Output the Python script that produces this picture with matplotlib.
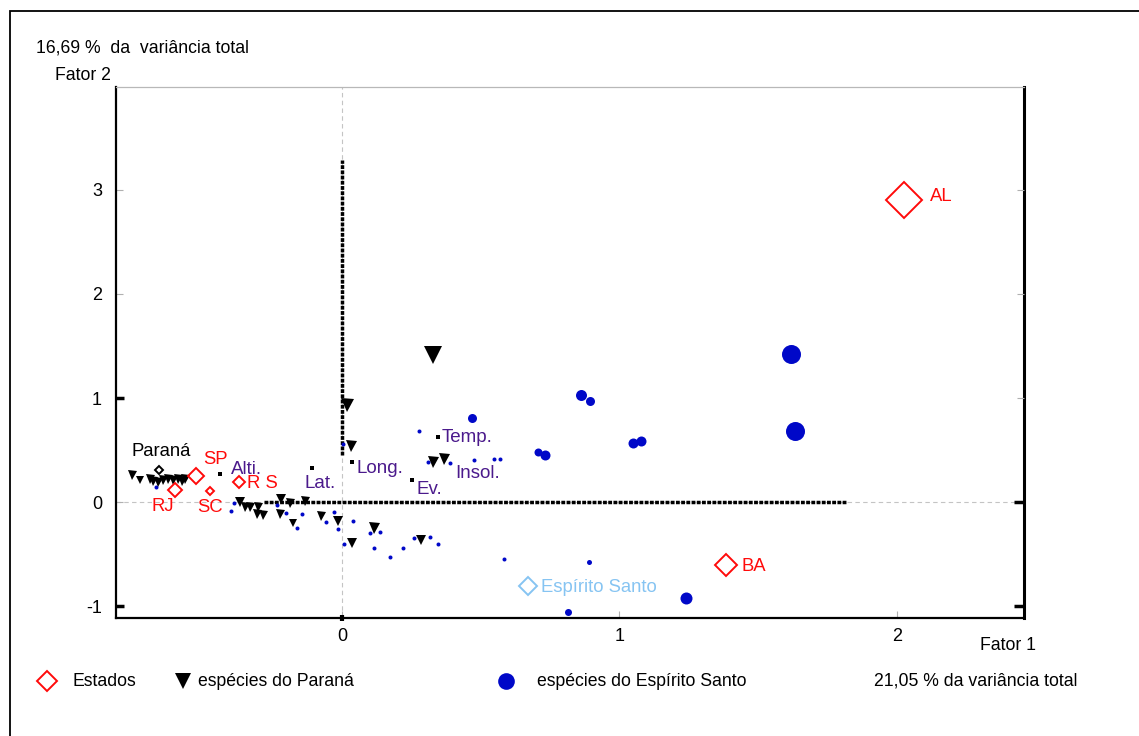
import numpy as np
import matplotlib
matplotlib.use("Agg")
import matplotlib.pyplot as plt
from matplotlib.lines import Line2D
from matplotlib.patches import Rectangle
from matplotlib.ticker import FixedLocator, NullFormatter

# states (factor scores)
estados = ["AL", "BA", "Espírito Santo", "SP", "RJ", "SC", "RS", "Paraná"]
estados_f1 = [2.025, 1.384, 0.670, -0.526, -0.602, -0.476, -0.371, -0.659]
estados_f2 = [2.904, -0.606, -0.808, 0.250, 0.115, 0.106, 0.192, 0.308]
estados_rotulo = ["AL", "BA", "Espírito Santo", "SP", "RJ", "SC", "R S", "Paraná"]

# environmental variables
variaveis = ["Alti.", "Lat.", "Long.", "Ev.", "Temp.", "Insol."]
var_f1 = [-0.440, -0.108, 0.036, 0.252, 0.346, 0.368]
var_f2 = [0.269, 0.327, 0.385, 0.212, 0.625, 0.420]

# species from Paraná
parana_f1 = [0.328, 0.018, 0.032, 0.328, 0.368,
             -0.757, -0.728, -0.692, -0.681, -0.663, -0.645, -0.627, -0.609, -0.591, -0.577, -0.566,
             -0.368, -0.350, -0.332, -0.303, -0.306, -0.285, -0.220, -0.223, -0.187, -0.133,
             -0.177, -0.076, -0.014, 0.036, 0.115, 0.285]
parana_f2 = [1.413, 0.933, 0.538, 0.385, 0.413,
             0.260, 0.212, 0.221, 0.202, 0.192, 0.212, 0.221, 0.212, 0.221, 0.202, 0.221,
             0.000, -0.048, -0.048, -0.048, -0.115, -0.125, 0.029, -0.115, -0.010, 0.010,
             -0.202, -0.135, -0.183, -0.394, -0.250, -0.365]
parana_peso = [18, 13, 11, 11, 11,
               9, 8, 9, 9, 9, 9, 9, 9, 9, 9, 9,
               10, 9, 9, 9, 9, 9, 10, 9, 9, 9,
               8, 9, 10, 10, 11, 10]

# species from Espírito Santo
es_f1 = [1.618, 1.632, 1.240, 0.861, 0.894, 1.049, 1.077, 0.706, 0.732, 0.468, 0.814,
         -0.670, -0.389, -0.400, -0.234, -0.202, -0.144, -0.058, -0.029, -0.162, -0.014,
         0.007, 0.040, 0.101, 0.137, 0.115, 0.173, 0.220, 0.259, 0.317, 0.346, 0.584,
         0.004, 0.277, 0.310, 0.389, 0.476, 0.548, 0.569, 0.890]
es_f2 = [1.423, 0.683, -0.923, 1.029, 0.971, 0.567, 0.587, 0.481, 0.452, 0.808, -1.058,
         0.144, -0.010, -0.087, -0.029, -0.106, -0.115, -0.192, -0.096, -0.250, -0.260,
         -0.404, -0.183, -0.298, -0.288, -0.442, -0.529, -0.442, -0.346, -0.337, -0.404, -0.548,
         0.558, 0.683, 0.385, 0.375, 0.404, 0.413, 0.413, -0.577]
es_peso = [19, 19, 12, 11, 9, 10, 10, 8, 10, 9, 7,
           4, 4, 4, 4, 4, 4, 4, 4, 4, 4,
           4, 4, 4, 4, 4, 4, 4, 4, 4, 4, 4,
           4, 4, 4, 4, 4, 4, 4, 5]

W, H = 1139, 736
RED = "#ff0a0a"
BLUE = "#0008c8"
PURPLE = "#4b1a8c"
LIGHTBLUE = "#86c4f2"

plt.rcParams["font.family"] = ["Liberation Sans", "DejaVu Sans"]
plt.rcParams["font.size"] = 12.7


def fx(px):
    return px / W


def fy(py):
    return 1 - py / H


fig = plt.figure(figsize=(W / 100, H / 100), dpi=100)
ax = fig.add_axes([fx(116), fy(618), fx(1024) - fx(116), fy(87) - fy(618)])
ax.set_xlim(-0.814, 2.458)
ax.set_ylim(-1.115, 3.99)

# light dashed reference lines through the origin
ax.axvline(0, color="#c4c4c4", lw=0.8, ls=(0, (4, 3)), zorder=0)
ax.axhline(0, color="#c4c4c4", lw=0.8, ls=(0, (4, 3)), zorder=0)

# heavy dotted axes of the biplot
ax.plot([0, 0], [0.45, 3.29], color="black", lw=2.5, ls=(0, (1.1, 0.4)), zorder=1)
ax.plot([-0.28, 1.82], [0, 0], color="black", lw=2.5, ls=(0, (1.1, 0.4)), zorder=1)

# species of Espírito Santo
for x, y, s in zip(es_f1, es_f2, es_peso):
    ax.plot(x, y, "o", color=BLUE, ms=s * 0.72, mew=0, zorder=3)

# species of Paraná
for x, y, s in zip(parana_f1, parana_f2, parana_peso):
    ax.plot(x, y, "v", color="black", ms=s * 0.72, mew=0, zorder=4)

# variables
ax.plot(var_f1, var_f2, "s", color="black", ms=2.5, mew=0, zorder=5)
var_offsets = {"Alti.": (11, 5), "Lat.": (-7, -15), "Long.": (5, -7),
               "Ev.": (5, -10), "Temp.": (4, 0), "Insol.": (11, -15)}
for nome, x, y in zip(variaveis, var_f1, var_f2):
    dx, dy = var_offsets[nome]
    ax.annotate(nome, (x, y), xytext=(dx, dy), textcoords="offset pixels",
                ha="left", va="center", color=PURPLE, fontsize=13.5, zorder=6)

# states
est_size = {"AL": 18.5, "BA": 11, "Espírito Santo": 9, "SP": 8, "RJ": 7.5,
            "SC": 4, "RS": 6.5, "Paraná": 4.5}
est_offsets = {"AL": (26, 3), "BA": (16, -1), "Espírito Santo": (13, -1), "SP": (7, 17),
               "RJ": (-23, -16), "SC": (-13, -17), "RS": (8, -1), "Paraná": (-28, 18)}
for nome, rot, x, y in zip(estados, estados_rotulo, estados_f1, estados_f2):
    cor = RED
    if nome == "Espírito Santo":
        cor = LIGHTBLUE
    elif nome == "Paraná":
        cor = "black"
    ax.plot(x, y, "D", mfc="none", mec=cor, mew=1.4, ms=est_size[nome], zorder=7)
    dx, dy = est_offsets[nome]
    ax.annotate(rot, (x, y), xytext=(dx, dy), textcoords="offset pixels",
                ha="left", va="center", color=cor, fontsize=13.3, zorder=8)

# frame and ticks
ax.set_xticks([0, 1, 2])
ax.set_yticks([-1, 0, 1, 2, 3])
ax.set_xticklabels(["0", "1", "2"])
ax.set_yticklabels(["-1", "0", "1", "2", "3"])
ax.tick_params(direction="in", length=5, width=0.8, color="#b0b0b0", labelsize=13,
               top=False, pad=7)
ax.tick_params(axis="y", pad=10)

# a few heavy black ticks drawn as minor ticks
ax.xaxis.remove_overlapping_locs = False
ax.yaxis.remove_overlapping_locs = False
ax.yaxis.set_minor_locator(FixedLocator([-1, 1]))
ax.yaxis.set_minor_formatter(NullFormatter())
ax.tick_params(axis="y", which="minor", direction="in", length=6, width=2.5,
               color="black", left=True, right=False)
ax.xaxis.set_minor_locator(FixedLocator([0]))
ax.xaxis.set_minor_formatter(NullFormatter())
ax.tick_params(axis="x", which="minor", direction="inout", length=5, width=3,
               color="black", bottom=True, top=False)

# right-hand ticks on a twin axis: heavy black at -1 and 0, light grey above
ax_r = ax.twinx()
ax_r.set_ylim(ax.get_ylim())
ax_r.set_yticks([-1, 0])
ax_r.set_yticklabels([])
ax_r.tick_params(axis="y", direction="in", length=7, width=2.5, color="black")
ax_r.yaxis.set_minor_locator(FixedLocator([1, 2, 3]))
ax_r.yaxis.set_minor_formatter(NullFormatter())
ax_r.tick_params(axis="y", which="minor", direction="in", length=5, width=0.8, color="#b0b0b0")
for sp in ax_r.spines.values():
    sp.set_visible(False)

for sp in ["left", "bottom"]:
    ax.spines[sp].set_linewidth(1.6)
    ax.spines[sp].set_color("black")
ax.spines["right"].set_linewidth(2.2)
ax.spines["right"].set_color("black")
ax.spines["top"].set_linewidth(0.9)
ax.spines["top"].set_color("#b8b8b8")

# outer frame
fig.add_artist(Rectangle((fx(10), -0.2), 1.2, fy(11) + 0.2, transform=fig.transFigure,
                         fill=False, ec="black", lw=1.3))

fig.text(fx(36), fy(48), "16,69 %  da  variância total", ha="left", va="center")
fig.text(fx(55), fy(75), "Fator 2", ha="left", va="center")
fig.text(fx(980), fy(646), "Fator 1", ha="left", va="center")

# legend row
fig.add_artist(Line2D([fx(47)], [fy(681)], marker="D", mfc="none", mec=RED, mew=1.4, ms=10,
                      transform=fig.transFigure))
fig.text(fx(72), fy(681), "Estados", ha="left", va="center")
fig.add_artist(Line2D([fx(183)], [fy(681)], marker="v", color="black", mew=0, ms=12,
                      transform=fig.transFigure))
fig.text(fx(198), fy(681), "espécies do Paraná", ha="left", va="center")
fig.add_artist(Line2D([fx(506)], [fy(681)], marker="o", color=BLUE, mew=0, ms=12,
                      transform=fig.transFigure))
fig.text(fx(537), fy(681), "espécies do Espírito Santo", ha="left", va="center")
fig.text(fx(874), fy(681), "21,05 % da variância total", ha="left", va="center")

fig.savefig("out.png", dpi=100, facecolor="white")
